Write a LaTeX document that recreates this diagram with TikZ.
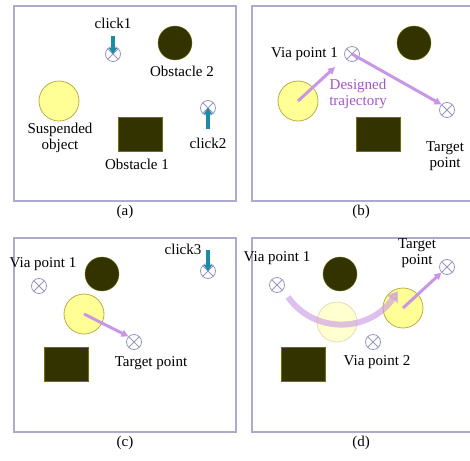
\documentclass[tikz,border=0pt]{standalone}
\usepackage{fontspec}
\setmainfont{Liberation Serif}
\usetikzlibrary{arrows.meta}
\definecolor{framecol}{RGB}{172,172,202}
\definecolor{viacol}{RGB}{150,150,192}
\definecolor{obscol}{RGB}{51,51,0}
\definecolor{loadcol}{RGB}{255,255,150}
\definecolor{loadedge}{RGB}{185,175,70}
\definecolor{clickcol}{RGB}{28,140,162}
\definecolor{trajcol}{RGB}{200,150,228}
\definecolor{trajtext}{RGB}{165,85,195}

\begin{document}
\begin{tikzpicture}[x=1pt, y=-1pt, font=\fontsize{15}{16}\selectfont,
    panel/.style={draw=framecol, line width=1.2pt},
    via/.style={circle, draw=viacol, line width=.8pt, minimum size=15pt, inner sep=0pt,
        path picture={\draw[viacol, line width=.8pt] (path picture bounding box.north west) -- (path picture bounding box.south east)
            (path picture bounding box.south west) -- (path picture bounding box.north east);}},
    obsball/.style={circle, fill=obscol, draw=obscol!70!yellow, minimum size=34pt, inner sep=0pt},
    obsbox/.style={rectangle, fill=obscol, draw=obscol!70!yellow, minimum width=44pt, minimum height=34pt, inner sep=0pt},
    load/.style={circle, fill=loadcol, draw=loadedge, line width=.8pt, minimum size=40pt, inner sep=0pt},
    ghost/.style={load, fill=loadcol!45, draw=loadedge!40},
    lbl/.style={inner sep=0pt, align=center},
    clickarrow/.style={draw=clickcol, line width=3.5pt, -{Triangle[width=8pt, length=6pt]}},
    trajarrow/.style={draw=trajcol, line width=3pt, -{Triangle[width=7pt, length=7pt]}}]
    \useasboundingbox (0,0) rectangle (470,460);

    % (a)
    \draw[panel] (14,6) rectangle (236,201);
    \node[lbl] (capA) at (125,212) {(a)};
    \node[obsball] (obsA2) at (175,43) {};
    \node[lbl] (obsA2txt) at (182,71) {Obstacle 2};
    \node[load] (loadA) at (59,101) {};
    \node[lbl] (loadAtxt) at (60,138) {Suspended\\object};
    \node[obsbox] (obsA1) at (140,134) {};
    \node[lbl] (obsA1txt) at (137,164) {Obstacle 1};
    \node[via] (clickA1) at (113,54) {};
    \node[lbl] (clickA1txt) at (113,23) {click1};
    \coordinate (clickA1top) at (113,36);
    \draw[clickarrow] (clickA1top) -- (clickA1.center);
    \node[via] (clickA2) at (208,108) {};
    \node[lbl] (clickA2txt) at (208,143) {click2};
    \coordinate (clickA2bot) at (208,129);
    \draw[clickarrow] (clickA2bot) -- (clickA2.center);

    % (b)
    \draw[panel] (252,6) rectangle (474,201);
    \node[lbl] (capB) at (361,212) {(b)};
    \node[obsball] (obsB2) at (414,43) {};
    \node[load] (loadB) at (298,101) {};
    \node[obsbox] (obsB1) at (378,134) {};
    \node[via] (viaB1) at (352,54) {};
    \node[lbl, anchor=east] (viaB1txt) at (338,54) {Via point 1};
    \node[via] (targB) at (447,110) {};
    \node[lbl] (targBtxt) at (445,156) {Target\\point};
    \node[lbl, text=trajtext] (trajBtxt) at (358,94) {Designed\\trajectory};
    \coordinate (viaB1in) at (335,67);
    \draw[trajarrow] (loadB.center) -- (viaB1in);
    \draw[trajarrow] (viaB1.center) -- (targB.north west);

    % (c)
    \draw[panel] (14,238) rectangle (236,432);
    \node[lbl] (capC) at (125,443) {(c)};
    \node[obsball] (obsC2) at (102,274) {};
    \node[load] (loadC) at (84,314) {};
    \node[obsbox] (obsC1) at (66,364) {};
    \node[via] (viaC1) at (39,286) {};
    \node[lbl] (viaC1txt) at (43,264) {Via point 1};
    \node[via] (targC) at (134,342) {};
    \node[lbl] (targCtxt) at (151,363) {Target point};
    \draw[trajarrow] (loadC.center) -- (targC.north west);
    \node[via] (clickC3) at (208,271) {};
    \node[lbl] (clickC3txt) at (183,249) {click3};
    \coordinate (clickC3top) at (208,250);
    \draw[clickarrow] (clickC3top) -- (clickC3.center);

    % (d)
    \draw[panel] (252,238) rectangle (474,432);
    \node[lbl] (capD) at (361,443) {(d)};
    \node[obsball] (obsD2) at (340,274) {};
    \node[ghost] (ghostD) at (337,322) {};
    \node[load] (loadD) at (403,308) {};
    \node[obsbox] (obsD1) at (303,364) {};
    \node[via] (viaD1) at (277,285) {};
    \node[lbl] (viaD1txt) at (277,258) {Via point 1};
    \node[via] (viaD2) at (373,342) {};
    \node[lbl] (viaD2txt) at (377,362) {Via point 2};
    \node[via] (targD) at (447,267) {};
    \node[lbl] (targDtxt) at (417,253) {Target\\point};
    \coordinate (arcD0) at (288,297);
    \coordinate (arcD1) at (398,291);
    \draw[draw=trajcol, line width=6pt, opacity=.6, -{Triangle[width=13pt, length=10pt]}]
        (arcD0) .. controls (315,335) and (370,332) .. (arcD1);
    \draw[trajarrow] (loadD.center) -- (targD.south west);
\end{tikzpicture}
\end{document}
